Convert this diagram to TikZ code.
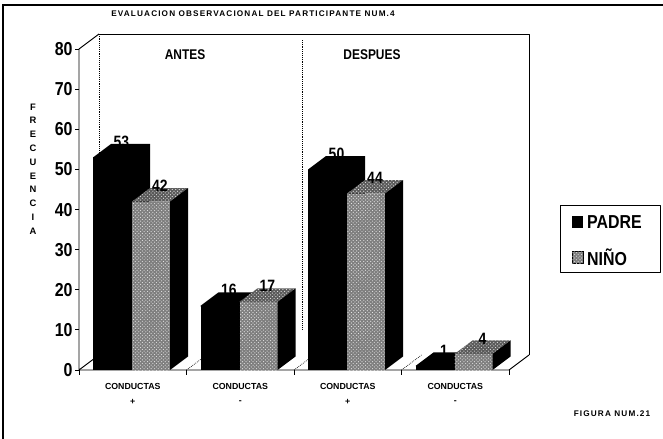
\documentclass[tikz,border=0pt]{standalone}
\usepackage{fontspec}
\setmainfont{Liberation Sans}
\newfontfamily\widefont[LetterSpace=14]{Liberation Sans}
\newfontfamily\narrowfont[FakeStretch=0.85]{Liberation Sans}
\usetikzlibrary{patterns}
\definecolor{ink}{HTML}{000000}
\definecolor{ninogray}{HTML}{7E7E7E}
\definecolor{ninotop}{HTML}{5A5A5A}
\definecolor{dots}{HTML}{E4E4E4}
\tikzset{
  frame/.style={draw=ink, line width=1.2pt},
  axis/.style={draw=ink, line width=0.8pt, line join=round},
  grid/.style={draw=ink, densely dotted, line width=0.6pt},
  padre/.style={fill=ink},
  nino/.style={fill=ninogray, postaction={pattern=crosshatch dots, pattern color=dots}},
  ninotopf/.style={fill=ninotop, postaction={pattern=crosshatch dots, pattern color=dots}},
  tick/.style={font=\narrowfont\fontsize{16}{16}\selectfont\bfseries, anchor=east, inner sep=1pt},
  cat/.style={font=\fontsize{7.5}{8}\selectfont\bfseries, inner sep=0pt},
  lab/.style={font=\narrowfont\fontsize{12}{12}\selectfont\bfseries, inner sep=0pt},
  leg/.style={font=\narrowfont\fontsize{16}{16}\selectfont\bfseries, anchor=west, inner sep=0pt},
  small/.style={font=\widefont\fontsize{7}{7}\selectfont\bfseries, inner sep=0pt},
  ylet/.style={font=\fontsize{8}{8}\selectfont\bfseries, inner sep=0pt},
  val/.style={font=\narrowfont\fontsize{14}{14}\selectfont\bfseries, inner sep=0pt},
}
\begin{document}
\begin{tikzpicture}[x=0.3mm, y=-0.3mm]
  \useasboundingbox (0,0) rectangle (663,439);
  \def\dx{18}
  \def\dy{13.5}
  \def\u{4.01}
  \draw[frame] (3,439) -- (3,5) -- (663,5);
  \node[small] (title) at (253,14) {EVALUACION OBSERVACIONAL DEL PARTICIPANTE NUM.4};
  % walls and floor
  \coordinate (FL) at (79,370);
  \coordinate (FR) at (509,370);
  \coordinate (BL) at (99,355);
  \coordinate (BR) at (529,355);
  \coordinate (TL) at (79,49);
  \coordinate (BTL) at (99,34);
  \coordinate (BTR) at (529,34);
  \draw[axis] (BTL) -- (BTR) -- (BR);
  \draw[grid] (BL) -- (BTL);
  \draw[axis] (BL) -- (FL) -- (TL) -- (BTL);
  \draw[axis] (FL) -- (FR) -- (BR);
  \foreach \k in {1,2,3}
    \draw[grid] (79+107.5*\k,370) -- ++(20,-15);
  \draw[grid] (302,40) -- (302,330);
  \node[lab] (antes) at (185,55) {ANTES};
  \node[lab] (despues) at (372,55) {DESPUES};
  % value axis
  \foreach \v in {0,10,...,80} {
    \draw[axis] (75,370-\v*\u) -- (79,370-\v*\u);
    \node[tick] (y\v) at (74,370-\v*\u) {\v};
  }
  \foreach \c [count=\j] in {F,R,E,C,U,E,N,C,I,A}
    \node[ylet] (f\j) at (33,93+13.8*\j) {\c};
  % categories
  \foreach \k/\s in {0/+,1/-,2/+,3/-} {
    \draw[axis] (79+107.5*\k,370) -- ++(0,5);
    \node[cat] (c\k) at (132.75+107.5*\k,386) {CONDUCTAS};
    \node[cat] (s\k) at (132.75+107.5*\k,402) {\s};
  }
  \draw[axis] (FR) -- ++(0,5);
  % bars
  \foreach \k/\p/\n in {0/53/42,1/16/17,2/50/44,3/1/4} {
    \pgfmathsetmacro\a{79+107.5*\k+14}
    \pgfmathsetmacro\b{\a+39}
    \pgfmathsetmacro\hp{370-\p*\u}
    \pgfmathsetmacro\hn{370-\n*\u}
    \fill[padre] (\a,370) rectangle (\b,\hp);
    \fill[padre] (\a,\hp) -- (\a+\dx,\hp-\dy) -- (\b+\dx,\hp-\dy)
      -- (\b+\dx,370-\dy) -- (\b,370) -- cycle;
    \fill[nino] (\b,370) rectangle (\b+38,\hn);
    \fill[ninotopf] (\b,\hn) -- (\b+\dx,\hn-\dy) -- (\b+38+\dx,\hn-\dy) -- (\b+38,\hn) -- cycle;
    \fill[padre] (\b+38,\hn) -- (\b+38+\dx,\hn-\dy) -- (\b+38+\dx,370-\dy) -- (\b+38,370) -- cycle;
    \node[val] (vp\k) at (\a+19.5+\dx/2,\hp-\dy-2) {\p};
    \node[val] (vn\k) at (\b+19+\dx/2,\hn-\dy-2) {\n};
  }
  % legend
  \draw[axis] (560,205) rectangle (660,272);
  \fill[padre] (572,216) rectangle (583,228);
  \node[leg] (lpadre) at (587,222) {PADRE};
  \filldraw[nino, draw=ink, line width=0.5pt] (572,251) rectangle (583,263);
  \node[leg] (lnino) at (587,257) {NIÑO};
  \node[small] (fig) at (612,414) {FIGURA NUM.21};
\end{tikzpicture}
\end{document}
